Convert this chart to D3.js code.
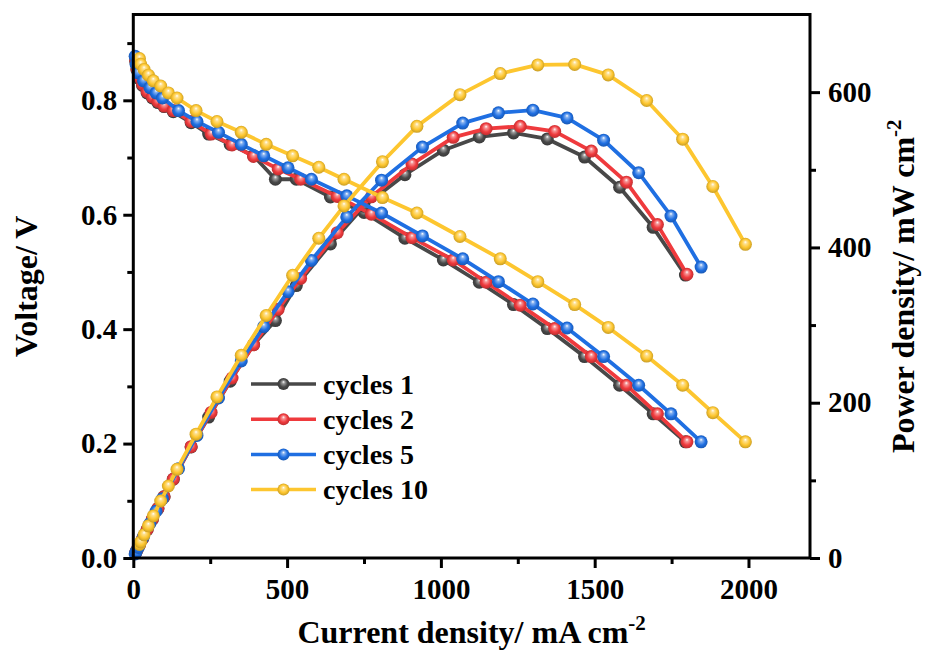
<!DOCTYPE html>
<html>
<head>
<meta charset="utf-8">
<script src="https://cdn.jsdelivr.net/npm/d3@7/dist/d3.min.js"></script>
<style>
  html, body { margin: 0; padding: 0; background: #fff; }
  svg text { font-family: "Liberation Serif", "Times New Roman", serif; font-weight: bold; fill: #000; }
</style>
</head>
<body>
<div id="chart"></div>
<script>
// Curvas de polarización y densidad de potencia por ciclo

const seriesNames = ['cycles 1', 'cycles 2', 'cycles 5', 'cycles 10'];
const seriesColors = ['#484848', '#ef3a3d', '#1f6fe2', '#fdc62f'];

// cycles 1
const current1 = [8, 12, 20, 30, 45, 62, 80, 100, 130, 188, 245, 315, 391, 462, 530, 641, 750, 883, 1008, 1125, 1236, 1346, 1467, 1581, 1690, 1795];
const voltage1 = [0.868, 0.853, 0.838, 0.826, 0.813, 0.804, 0.796, 0.789, 0.78, 0.761, 0.741, 0.723, 0.703, 0.662, 0.662, 0.631, 0.604, 0.559, 0.521, 0.482, 0.443, 0.401, 0.352, 0.302, 0.252, 0.203];
const power1 = [6.9, 10.2, 16.8, 24.8, 36.6, 49.8, 63.7, 78.9, 101.4, 143.1, 181.5, 227.7, 274.9, 305.8, 350.9, 404.5, 453, 493.6, 525.2, 542.3, 547.5, 539.7, 516.4, 477.5, 425.9, 364.4];

// cycles 2
const current2 = [8, 12, 20, 30, 45, 62, 80, 100, 130, 188, 253, 321, 391, 471, 544, 663, 774, 906, 1040, 1147, 1258, 1370, 1489, 1603, 1704, 1800];
const voltage2 = [0.870, 0.855, 0.840, 0.828, 0.815, 0.806, 0.798, 0.790, 0.782, 0.763, 0.741, 0.722, 0.702, 0.680, 0.662, 0.632, 0.601, 0.560, 0.521, 0.482, 0.442, 0.401, 0.352, 0.302, 0.252, 0.203];
const power2 = [7.0, 10.3, 16.8, 24.8, 36.7, 50.0, 63.8, 79.0, 101.7, 143.4, 187.5, 231.8, 274.5, 320.3, 360.1, 419.0, 465.2, 507.4, 541.8, 552.9, 556.0, 549.4, 524.1, 484.1, 429.4, 365.4];

// cycles 5
const current5 = [6, 9, 16, 33, 54, 74, 95, 147, 207, 277, 351, 424, 503, 579, 694, 807, 940, 1071, 1187, 1299, 1410, 1529, 1643, 1748, 1846];
const voltage5 = [0.877, 0.863, 0.848, 0.834, 0.822, 0.813, 0.804, 0.782, 0.763, 0.744, 0.723, 0.703, 0.682, 0.662, 0.633, 0.603, 0.563, 0.523, 0.483, 0.444, 0.402, 0.352, 0.302, 0.252, 0.203];
const power5 = [5.3, 7.8, 13.6, 27.5, 44.4, 60.2, 76.4, 115.0, 157.9, 206.1, 253.8, 298.1, 343.0, 383.3, 439.3, 486.6, 529.2, 560.1, 573.3, 576.8, 566.8, 538.2, 496.2, 440.5, 374.7];

// cycles 10
const current10 = [20, 24, 35, 49, 65, 89, 114, 142, 204, 272, 351, 432, 518, 603, 685, 810, 922, 1062, 1193, 1315, 1435, 1544, 1669, 1786, 1884, 1990];
const voltage10 = [0.873, 0.863, 0.854, 0.844, 0.834, 0.825, 0.813, 0.804, 0.782, 0.763, 0.744, 0.723, 0.703, 0.683, 0.662, 0.630, 0.603, 0.562, 0.523, 0.483, 0.443, 0.403, 0.353, 0.302, 0.254, 0.203];
const power10 = [17.5, 20.7, 29.9, 41.4, 54.2, 73.4, 92.7, 114.2, 159.5, 207.5, 261.1, 312.3, 364.2, 411.8, 453.5, 510.3, 556.0, 596.8, 623.9, 635.1, 635.7, 622.2, 589.2, 539.4, 478.5, 404.0];

const xTicks = [0, 500, 1000, 1500, 2000];
const xMinorTicks = [250, 750, 1250, 1750];
const yLeftTicks = [0, 0.2, 0.4, 0.6, 0.8];
const yLeftMinorTicks = [0.1, 0.3, 0.5, 0.7, 0.9];
const yRightTicks = [0, 200, 400, 600];
const yRightMinorTicks = [100, 300, 500];

const allCurrent = [current1, current2, current5, current10];
const allVoltage = [voltage1, voltage2, voltage5, voltage10];
const allPower = [power1, power2, power5, power10];

const width = 933;
const height = 653;
const plot = { left: 133.3, right: 810, top: 14.5, bottom: 558 };

const svg = d3.select('#chart')
  .append('svg')
  .attr('width', width)
  .attr('height', height);

// Escalas
const x = d3.scaleLinear().domain([0, 2200]).range([plot.left, plot.right]);
const yL = d3.scaleLinear().domain([0, 0.95]).range([plot.bottom, plot.top]);
const yR = d3.scaleLinear().domain([0, 700]).range([plot.bottom, plot.top]);

// Gradientes tipo esfera para los marcadores
const defs = svg.append('defs');
seriesColors.forEach((c, i) => {
  const base = d3.color(c);
  const grad = defs.append('radialGradient')
    .attr('id', 'ball' + i)
    .attr('cx', '50%').attr('cy', '50%').attr('r', '55%')
    .attr('fx', '50%').attr('fy', '32%');
  grad.append('stop').attr('offset', '0%').attr('stop-color', '#ffffff');
  grad.append('stop').attr('offset', '22%').attr('stop-color', d3.interpolateRgb(c, '#fff')(0.45));
  grad.append('stop').attr('offset', '60%').attr('stop-color', c);
  grad.append('stop').attr('offset', '100%').attr('stop-color', base.darker(0.8).formatHex());
});

// Series (curva V y curva P)
const line = d3.line();
seriesNames.forEach((name, i) => {
  const cur = allCurrent[i];
  const vPts = cur.map((d, j) => [x(d), yL(allVoltage[i][j])]);
  const pPts = cur.map((d, j) => [x(d), yR(allPower[i][j])]);
  const g = svg.append('g').attr('class', 'series');

  [vPts, pPts].forEach(pts => {
    g.append('path')
      .attr('d', line(pts))
      .attr('fill', 'none')
      .attr('stroke', seriesColors[i])
      .attr('stroke-width', 3.8)
      .attr('stroke-linejoin', 'round');
  });

  [vPts, pPts].forEach(pts => {
    g.selectAll(null)
      .data(pts)
      .enter()
      .append('circle')
      .attr('cx', d => d[0])
      .attr('cy', d => d[1])
      .attr('r', 6.5)
      .attr('fill', `url(#ball${i})`);
  });
});

// Marco
svg.append('rect')
  .attr('x', plot.left)
  .attr('y', plot.top)
  .attr('width', plot.right - plot.left)
  .attr('height', plot.bottom - plot.top)
  .attr('fill', 'none')
  .attr('stroke', '#000')
  .attr('stroke-width', 3);

// Ejes
const styleAxis = (sel, fontSize) => {
  sel.select('.domain').remove();
  sel.selectAll('.tick line').attr('stroke', '#000').attr('stroke-width', 3);
  sel.selectAll('.tick text').attr('font-size', fontSize).attr('fill', '#000')
    .style('font-family', '"Liberation Serif", "Times New Roman", serif').style('font-weight', 'bold');
};

svg.append('g')
  .attr('transform', `translate(0,${plot.bottom})`)
  .call(d3.axisBottom(x).tickValues(xMinorTicks).tickSize(6).tickFormat(''))
  .call(s => styleAxis(s, 0));
svg.append('g')
  .attr('transform', `translate(0,${plot.bottom})`)
  .call(d3.axisBottom(x).tickValues(xTicks).tickSize(10).tickPadding(10).tickFormat(d3.format('d')))
  .call(s => styleAxis(s, 29));

svg.append('g')
  .attr('transform', `translate(${plot.left},0)`)
  .call(d3.axisLeft(yL).tickValues(yLeftMinorTicks).tickSize(6).tickFormat(''))
  .call(s => styleAxis(s, 0));
svg.append('g')
  .attr('transform', `translate(${plot.left},0)`)
  .call(d3.axisLeft(yL).tickValues(yLeftTicks).tickSize(10).tickPadding(6).tickFormat(d3.format('.1f')))
  .call(s => styleAxis(s, 29));

svg.append('g')
  .attr('transform', `translate(${plot.right},0)`)
  .call(d3.axisRight(yR).tickValues(yRightMinorTicks).tickSize(6).tickFormat(''))
  .call(s => styleAxis(s, 0));
svg.append('g')
  .attr('transform', `translate(${plot.right},0)`)
  .call(d3.axisRight(yR).tickValues(yRightTicks).tickSize(10).tickPadding(8).tickFormat(d3.format('d')))
  .call(s => styleAxis(s, 29));

// Títulos de ejes
const xTitle = svg.append('text')
  .attr('x', (plot.left + plot.right) / 2)
  .attr('y', 643)
  .attr('text-anchor', 'middle')
  .attr('font-size', 32);
xTitle.append('tspan').text('Current density/ mA cm');
xTitle.append('tspan').attr('dy', -13).attr('font-size', 21).text('-2');

svg.append('text')
  .attr('transform', `translate(37,${(plot.top + plot.bottom) / 2}) rotate(-90)`)
  .attr('text-anchor', 'middle')
  .attr('font-size', 32)
  .text('Voltage/ V');

const yRTitle = svg.append('text')
  .attr('transform', `translate(914,${(plot.top + plot.bottom) / 2}) rotate(-90)`)
  .attr('text-anchor', 'middle')
  .attr('font-size', 32);
yRTitle.append('tspan').text('Power density/ mW cm');
yRTitle.append('tspan').attr('dy', -13).attr('font-size', 21).text('-2');

// Leyenda
const legend = svg.append('g').attr('transform', 'translate(251,384)');
seriesNames.forEach((name, i) => {
  const row = legend.append('g').attr('transform', `translate(0,${i * 35.2})`);
  row.append('line')
    .attr('x1', 0).attr('x2', 65)
    .attr('stroke', seriesColors[i])
    .attr('stroke-width', 3.5);
  row.append('circle')
    .attr('cx', 32.5)
    .attr('r', 6)
    .attr('fill', `url(#ball${i})`);
  row.append('text')
    .attr('x', 72)
    .attr('y', 9.5)
    .attr('font-size', 28)
    .text(name);
});
</script>
</body>
</html>
